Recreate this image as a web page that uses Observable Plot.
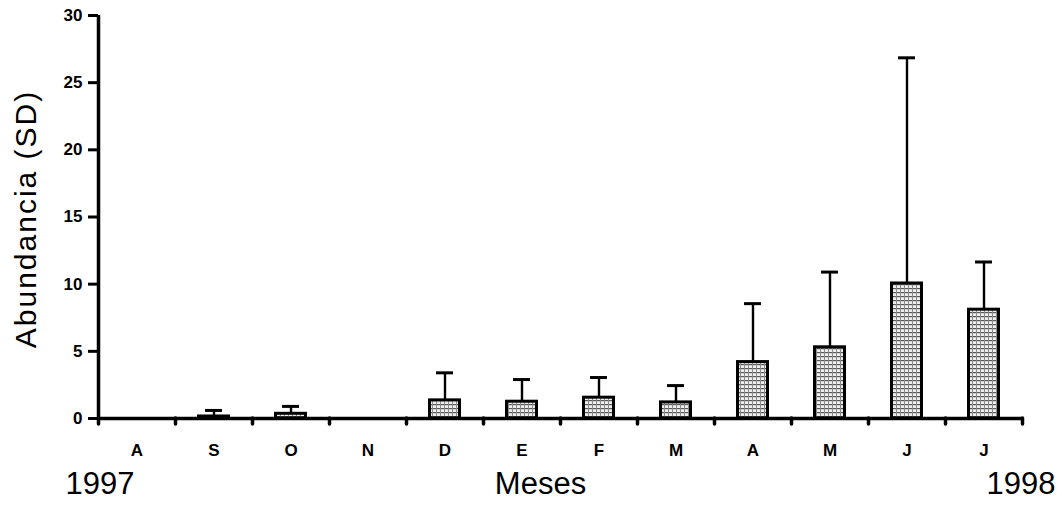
<!DOCTYPE html>
<html>
<head>
<meta charset="utf-8">
<script src="https://cdn.jsdelivr.net/npm/d3@7"></script>
<script src="https://cdn.jsdelivr.net/npm/@observablehq/plot@0.6"></script>
<style>
  html, body { margin: 0; padding: 0; background: #fff; }
  #chart { width: 1057px; height: 510px; }
  .ylabel text { letter-spacing: 2px; }
</style>
</head>
<body>
<div id="chart"></div>
<script>
// Months (Aug 1997 – Jul 1998)
const months = ["A", "S", "O", "N", "D", "E", "F", "M", "A", "M", "J", "J"];
// Mean abundance per month
const means = [0, 0.15, 0.35, 0, 1.35, 1.25, 1.55, 1.2, 4.2, 5.3, 10.05, 8.1];
// Standard deviation per month (upper error bar)
const sds = [0, 0.45, 0.55, 0, 2.05, 1.65, 1.5, 1.25, 4.35, 5.6, 16.8, 3.55];
// Y-axis ticks
const yTicks = [0, 5, 10, 15, 20, 25, 30];
const yearStart = "1997";
const yearEnd = "1998";
const xTitle = "Meses";
const yTitle = "Abundancia (SD)";

const data = months.map((m, i) => ({i, month: m, mean: means[i], sd: sds[i]}));
const bars = data.filter(d => d.mean > 0);
const errs = data.filter(d => d.sd > 0);
const capHalf = 0.11;
const font = "'Liberation Sans', Arial, sans-serif";

const plot = Plot.plot({
  width: 1057,
  height: 510,
  marginLeft: 98,
  marginRight: 35,
  marginTop: 15,
  marginBottom: 92,
  style: {background: "#fff", color: "#000", fontFamily: font},
  x: {domain: [0, 12], axis: null},
  y: {domain: [0, 30], axis: null},
  marks: [
    Plot.ruleX(errs, {x: d => d.i + 0.5, y1: "mean", y2: d => d.mean + d.sd, stroke: "#000", strokeWidth: 2.4}),
    Plot.ruleY(errs, {y: d => d.mean + d.sd, x1: d => d.i + 0.5 - capHalf, x2: d => d.i + 0.5 + capHalf, stroke: "#000", strokeWidth: 3}),
    Plot.rectY(bars, {x1: "i", x2: d => d.i + 1, y: "mean", insetLeft: 23.5, insetRight: 23.5,
      fill: "url(#stipple)", stroke: "#000", strokeWidth: 3}),
    Plot.axisY({ticks: yTicks, tickSize: 10, tickPadding: 6, strokeWidth: 3, fontSize: 17, fontWeight: "bold", label: null}),
    Plot.axisX({ticks: d3.range(0, 13), tickSize: 6, strokeWidth: 3.5, strokeLinecap: "round", tickFormat: () => "", label: null}),
    Plot.axisX({ticks: d3.range(0, 12).map(i => i + 0.5), tickSize: 0, tickPadding: 25, fontSize: 17, fontWeight: "bold",
      tickFormat: d => months[Math.floor(d)], label: null}),
    Plot.ruleY([0], {stroke: "#000", strokeWidth: 3.5}),
    Plot.ruleX([0], {y1: 0, y2: 30, stroke: "#000", strokeWidth: 3.5}),
    Plot.text([yTitle], {frameAnchor: "left", textAnchor: "middle", rotate: -90, dx: -72, dy: 2, fontSize: 30, fill: "#000", className: "ylabel"}),
    Plot.text([xTitle], {frameAnchor: "bottom", dx: -20, dy: 75, fontSize: 31, fill: "#000"}),
    Plot.text([yearStart], {frameAnchor: "bottom-left", textAnchor: "start", dx: -33, dy: 75, fontSize: 31, fill: "#000"}),
    Plot.text([yearEnd], {frameAnchor: "bottom-right", textAnchor: "end", dx: 33, dy: 75, fontSize: 31, fill: "#000"})
  ]
});

plot.insertAdjacentHTML("afterbegin",
  `<defs><pattern id="stipple" width="4" height="4" patternUnits="userSpaceOnUse">
     <rect width="4" height="4" fill="#eeeeee"></rect>
     <rect width="4" height="1.2" fill="#5a5a5a"></rect>
     <rect width="1" height="4" fill="#8a8a8a"></rect>
   </pattern></defs>`);
document.getElementById("chart").appendChild(plot);
</script>
</body>
</html>
